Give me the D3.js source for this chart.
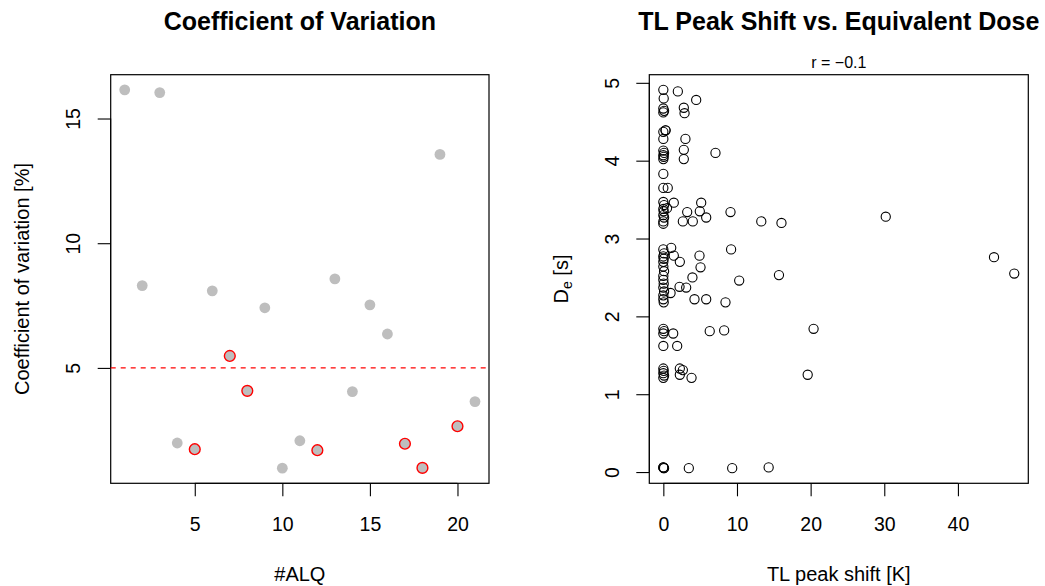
<!DOCTYPE html>
<html>
<head>
<meta charset="utf-8">
<script src="https://cdn.jsdelivr.net/npm/d3@7"></script>
<style>
  html, body { margin: 0; padding: 0; background: #fff; }
  svg { display: block; font-family: "Liberation Sans", Arial, Helvetica, sans-serif; }
</style>
</head>
<body>
<svg id="chart" width="1045" height="586"></svg>
<script>
// ---- Coefficient of variation per aliquot ----
const aliquots = [1, 2, 3, 4, 5, 6, 7, 8, 9, 10, 11, 12, 13, 14, 15, 16, 17, 18, 19, 20, 21];
const cvValues = [16.15, 8.30, 16.04, 1.99, 1.74, 8.09, 5.48, 4.08, 7.41, 0.98, 2.08,
                  1.70, 8.57, 4.05, 7.53, 6.36, 1.96, 0.99, 13.56, 2.66, 3.65];
const flaggedAliquots = [5, 7, 8, 12, 17, 18, 20];
const cvThreshold = 5;
const cvXTicks = [5, 10, 15, 20];
const cvYTicks = [5, 10, 15];

// ---- TL peak shift against equivalent dose ----
const peakShift = [
  0, 0.05, 0, 0.1, 0, 0.3, 0, 0, 0, 0.1, 0, 0.05, 0, 0, 0,
  0, 0.1, 0, 0.05, 0, 0.1, 0, 0, 0, 0.1, 0, 0.05, 0, 0, 0.1,
  0, 0, 0.05, 0, 0.1, 0, 0, 0.05, 0, 0.1, 0, 0, 0, 0.05, 0, 0.1, 0,
  0, 0.05, 0.1, 0,
  1.97, 4.46, 2.78, 2.88, 0.3, 3.0, 2.78, 2.78, 7.08, 0.6,
  1.42, 5.14, 0.5, 3.24, 4.95, 9.12, 5.82, 2.65, 4.0, 13.3,
  16.04, 30.2, 44.9, 47.65, 15.7, 10.3, 20.4, 19.6, 14.3, 1.07,
  1.42, 2.24, 4.91, 9.2, 5.05, 3.95, 0.98, 2.2, 3.1, 4.23,
  5.82, 8.44, 1.34, 6.3, 8.26, 1.88, 2.24, 2.65, 2.24, 3.83,
  3.46, 9.35
];
const equivalentDose = [
  4.91, 4.80, 4.67, 4.64, 4.62, 4.39, 4.37, 4.28, 4.13, 4.10, 4.07, 4.05, 4.02, 3.83, 3.65,
  3.47, 3.43, 3.38, 3.35, 3.30, 3.27, 3.22, 3.19, 2.86, 2.81, 2.77, 2.74, 2.70, 2.64, 2.58,
  2.52, 2.47, 2.42, 2.37, 2.32, 2.27, 2.22, 2.18, 1.84, 1.81, 1.78, 1.62, 1.33, 1.30, 1.27, 1.24, 1.21,
  0.06, 0.05, 0.05, 0.06,
  4.89, 4.78, 4.68, 4.61, 4.39, 4.28, 4.14, 4.02, 4.10, 3.65,
  3.46, 3.46, 3.39, 3.34, 3.35, 3.34, 3.27, 3.22, 3.22, 3.22,
  3.20, 3.28, 2.76, 2.55, 2.53, 2.46, 1.84, 1.25, 0.06, 2.88,
  2.78, 2.70, 2.78, 2.86, 2.63, 2.50, 2.30, 2.38, 2.37, 2.22,
  2.22, 2.18, 1.78, 1.81, 1.82, 1.62, 1.33, 1.31, 1.25, 1.21,
  0.05, 0.05
];
const correlationLabel = "r =  \u22120.1";
const shiftXTicks = [0, 10, 20, 30, 40];
const doseYTicks = [0, 1, 2, 3, 4, 5];

const svg = d3.select("#chart");
const tickLen = 13;
const tickFont = 19.5;
const fmt = d3.format("d");

// R-style range: data extent widened by 4% on each side
function paddedDomain(values) {
  const [lo, hi] = d3.extent(values);
  const pad = (hi - lo) * 0.04;
  return [lo - pad, hi + pad];
}

function drawPanel(cfg) {
  const { left, right, top, bottom } = cfg.box;
  const g = svg.append("g");

  const x = d3.scaleLinear().domain(paddedDomain(cfg.xData)).range([left, right]);
  const y = d3.scaleLinear().domain(paddedDomain(cfg.yData)).range([bottom, top]);

  // title
  g.append("text")
    .attr("x", (left + right) / 2).attr("y", 30)
    .attr("text-anchor", "middle")
    .attr("font-size", 25).attr("font-weight", "bold")
    .text(cfg.title);

  // bottom axis
  const xAxis = g.append("g")
    .attr("transform", `translate(0,${bottom})`)
    .call(d3.axisBottom(x).tickValues(cfg.xTicks).tickFormat(fmt)
      .tickSize(tickLen).tickSizeOuter(0));
  xAxis.select(".domain").remove();
  xAxis.append("line")
    .attr("x1", x(cfg.xTicks[0])).attr("x2", x(cfg.xTicks[cfg.xTicks.length - 1]))
    .attr("stroke", "#000");
  xAxis.selectAll(".tick line").attr("stroke", "#000").attr("stroke-width", 1.1);
  xAxis.selectAll(".tick text")
    .attr("y", 47.4).attr("dy", 0)
    .attr("font-size", tickFont).attr("fill", "#000")
    .attr("font-family", "Liberation Sans, Arial, sans-serif");

  // left axis with rotated labels
  const yAxis = g.append("g")
    .attr("transform", `translate(${left},0)`)
    .call(d3.axisLeft(y).tickValues(cfg.yTicks).tickFormat(fmt)
      .tickSize(tickLen).tickSizeOuter(0));
  yAxis.select(".domain").remove();
  yAxis.append("line")
    .attr("y1", y(cfg.yTicks[0])).attr("y2", y(cfg.yTicks[cfg.yTicks.length - 1]))
    .attr("stroke", "#000");
  yAxis.selectAll(".tick line").attr("stroke", "#000").attr("stroke-width", 1.1);
  yAxis.selectAll(".tick text")
    .attr("x", null).attr("dy", 0)
    .attr("transform", "translate(-30.7,0) rotate(-90)")
    .attr("text-anchor", "middle")
    .attr("font-size", tickFont).attr("fill", "#000")
    .attr("font-family", "Liberation Sans, Arial, sans-serif");

  // axis titles
  g.append("text")
    .attr("x", (left + right) / 2).attr("y", 581)
    .attr("text-anchor", "middle").attr("font-size", 20)
    .text(cfg.xLabel);

  const yl = g.append("text")
    .attr("transform", `translate(${left - 81.4},${(top + bottom) / 2}) rotate(-90)`)
    .attr("text-anchor", "middle").attr("font-size", 20);
  cfg.yLabel(yl);

  // plot box
  g.append("rect")
    .attr("x", left).attr("y", top)
    .attr("width", right - left).attr("height", bottom - top)
    .attr("fill", "none").attr("stroke", "#000").attr("stroke-width", 1.2);

  return { g, x, y };
}

// ---- left panel ----
const cv = drawPanel({
  box: { left: 110.7, right: 489, top: 74.7, bottom: 483.3 },
  xData: aliquots, yData: cvValues,
  xTicks: cvXTicks, yTicks: cvYTicks,
  title: "Coefficient of Variation",
  xLabel: "#ALQ",
  yLabel: t => t.text("Coefficient of variation [%]")
});

cv.g.append("line")
  .attr("x1", 110.7).attr("x2", 489)
  .attr("y1", cv.y(cvThreshold)).attr("y2", cv.y(cvThreshold))
  .attr("stroke", "#ff0000").attr("stroke-width", 1.3)
  .attr("stroke-dasharray", "5,5");

cv.g.append("g").selectAll("circle")
  .data(aliquots.map((a, i) => ({ a, v: cvValues[i], flag: flaggedAliquots.includes(a) })))
  .join("circle")
  .attr("cx", d => cv.x(d.a)).attr("cy", d => cv.y(d.v))
  .attr("r", 5.4)
  .attr("fill", "#bebebe")
  .attr("stroke", d => d.flag ? "#ff0000" : "none")
  .attr("stroke-width", 1.4);

// ---- right panel ----
const tl = drawPanel({
  box: { left: 649.3, right: 1028.3, top: 74.7, bottom: 483.3 },
  xData: peakShift, yData: equivalentDose,
  xTicks: shiftXTicks, yTicks: doseYTicks,
  title: "TL Peak Shift vs. Equivalent Dose",
  xLabel: "TL peak shift [K]",
  yLabel: t => {
    t.append("tspan").text("D");
    t.append("tspan").attr("font-size", 14).attr("dy", 4).text("e");
    t.append("tspan").attr("dy", -4).text(" [s]");
  }
});

tl.g.append("text")
  .attr("x", (649.3 + 1028.3) / 2).attr("y", 68)
  .attr("text-anchor", "middle").attr("font-size", 16)
  .text(correlationLabel);

tl.g.append("g").selectAll("circle")
  .data(peakShift.map((s, i) => ({ s, d: equivalentDose[i] })))
  .join("circle")
  .attr("cx", d => tl.x(d.s)).attr("cy", d => tl.y(d.d))
  .attr("r", 4.6)
  .attr("fill", "none").attr("stroke", "#000").attr("stroke-width", 1.1);
</script>
</body>
</html>
